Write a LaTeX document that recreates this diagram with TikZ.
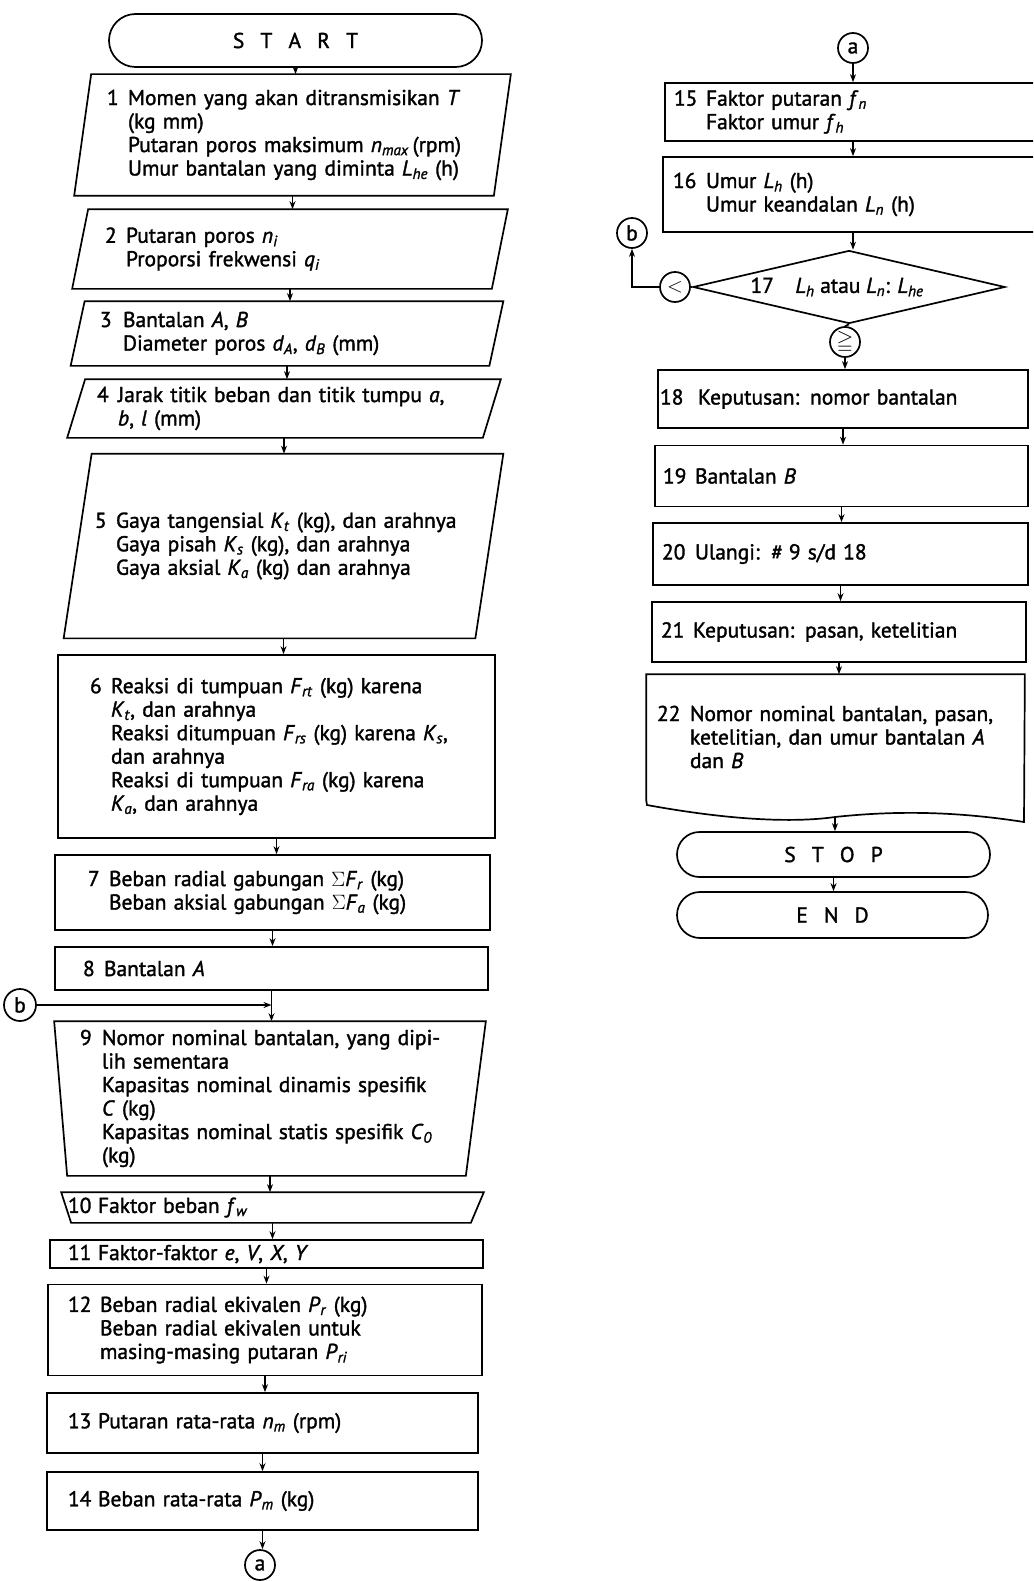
\documentclass[tikz,border=0pt]{standalone}
\usepackage{fontspec}
\usepackage{amssymb}
\setmainfont{PT Sans}[FakeBold=1.5]
\usetikzlibrary{shapes.geometric,shapes.misc,arrows.meta,calc}

\newcommand{\steptext}{\fontsize{21.5}{23.5}\selectfont}
\newcommand{\vsub}[2]{\textit{#1}\textsubscript{\textit{#2}}}
\newcommand{\stepitem}[3][21pt]{\noindent\hangindent=#1\hangafter=1\makebox[#1][l]{#2}#3\par}
\newcommand{\gap}{\hspace{0.75em}}

\begin{document}
\begin{tikzpicture}[x=1pt,y=-1pt,line width=1.7pt,
  box/.style={draw,rectangle,inner sep=0pt,align=left,font=\steptext},
  slanted/.style={box,draw=none},
  term/.style={draw,rounded rectangle,inner sep=0pt,font=\steptext},
  conn/.style={draw,circle,minimum size=30pt,inner sep=0pt,font=\steptext},
  decide/.style={draw,diamond,aspect=4.27,inner sep=0pt,font=\steptext},
  flow/.style={-{Stealth[length=8pt,width=6pt]}}]

\clip (0,0) rectangle (1033,1581);

% left column
\node[term,minimum width=373pt,minimum height=53pt] (start) at (295.5,40.5) {S\gap T\gap A\gap R\gap T};
\node[slanted,minimum width=418pt,minimum height=120pt,text width=371pt] (b1) at (292.5,135)
  {\stepitem{1}{Momen yang akan ditransmisikan \textit{T}\newline(kg mm)\newline Putaran poros maksimum \vsub{n}{max}\,(rpm)\newline Umur bantalan yang diminta \vsub{L}{he} (h)}};
\node[slanted,minimum width=418pt,minimum height=78pt,text width=370pt] (b2) at (290,249)
  {\stepitem{2}{Putaran poros \vsub{n}{i}\newline Proporsi frekwensi \vsub{q}{i}}};
\node[slanted,minimum width=417pt,minimum height=63pt,text width=374pt] (b3) at (287,333.5)
  {\stepitem[23pt]{3}{Bantalan \textit{A}, \textit{B}\newline Diameter poros \vsub{d}{A}, \vsub{d}{B} (mm)}};
\node[slanted,minimum width=414pt,minimum height=57pt,text width=374pt] (b4) at (284,408.5)
  {\stepitem{4}{Jarak titik beban dan titik tumpu \textit{a},\newline\textit{b}, \textit{l} (mm)}};
\node[slanted,minimum width=410pt,minimum height=183pt,text width=377pt] (b5) at (283.5,546)
  {\stepitem{5}{Gaya tangensial \vsub{K}{t} (kg), dan arahnya\newline Gaya pisah \vsub{K}{s} (kg), dan arahnya\newline Gaya aksial \vsub{K}{a} (kg) dan arahnya}};
\node[box,minimum width=437pt,minimum height=183pt,text width=373pt] (b6) at (276.5,746.5)
  {\stepitem{6}{Reaksi di tumpuan \vsub{F}{rt} (kg) karena\newline\vsub{K}{t}, dan arahnya\newline Reaksi ditumpuan \vsub{F}{rs} (kg) karena \vsub{K}{s},\newline dan arahnya\newline Reaksi di tumpuan \vsub{F}{ra} (kg) karena\newline\vsub{K}{a}, dan arahnya}};
\node[box,minimum width=435pt,minimum height=75pt,text width=369pt] (b7) at (272.5,892.5)
  {\stepitem{7}{Beban radial gabungan $\Sigma$\vsub{F}{r} (kg)\newline Beban aksial gabungan $\Sigma$\vsub{F}{a} (kg)}};
\node[box,minimum width=433pt,minimum height=43pt,text width=377pt] (b8) at (271.5,968.5)
  {\stepitem{8}{Bantalan \textit{A}}};
\node[slanted,minimum width=430pt,minimum height=153pt,text width=380pt] (b9) at (270,1098.5)
  {\stepitem[22pt]{9}{Nomor nominal bantalan, yang dipi-\newline lih sementara\newline Kapasitas nominal dinamis spesifik\newline\textit{C} (kg)\newline Kapasitas nominal statis spesifik \vsub{C}{0}\newline(kg)}};
\node[slanted,minimum width=421pt,minimum height=29pt,text width=409pt] (b10) at (272.5,1207.5)
  {\stepitem[30pt]{10}{Faktor beban \vsub{f}{w}}};
\node[box,minimum width=433pt,minimum height=28pt,text width=397pt] (b11) at (266.5,1254)
  {\stepitem[30pt]{11}{Faktor-faktor \textit{e}, \textit{V}, \textit{X}, \textit{Y}}};
\node[box,minimum width=434pt,minimum height=91pt,text width=394pt] (b12) at (265,1330)
  {\parbox{355pt}{\stepitem[32pt]{12}{Beban radial ekivalen \vsub{P}{r} (kg)\\Beban radial ekivalen untuk\linebreak masing-masing putaran \vsub{P}{ri}}}};
\node[box,minimum width=431pt,minimum height=60pt,text width=389pt] (b13) at (262.5,1423)
  {\stepitem[30pt]{13}{Putaran rata-rata \vsub{n}{m} (rpm)}};
\node[box,minimum width=431pt,minimum height=58pt,text width=389pt] (b14) at (262.5,1501)
  {\stepitem[30pt]{14}{Beban rata-rata \vsub{P}{m} (kg)}};
\node[conn] (aL) at (260,1565) {a};
\node[conn,minimum size=32pt] (bL) at (20,1005) {b};

% right column
\node[conn] (aR) at (853,48) {a};
\node[box,minimum width=376pt,minimum height=58pt,text width=358pt] (b15) at (853,112)
  {\stepitem[32pt]{15}{Faktor putaran \vsub{f}{n}\newline Faktor umur \vsub{f}{h}}};
\node[box,minimum width=380pt,minimum height=75pt,text width=360pt] (b16) at (853,194.5)
  {\stepitem[33pt]{16}{Umur \vsub{L}{h} (h)\newline Umur keandalan \vsub{L}{n} (h)}};
\node[decide,minimum width=312pt,minimum height=73pt] (d17) at (849,287)
  {\hspace*{-24pt}17\quad\vsub{L}{h} atau \vsub{L}{n}: \vsub{L}{he}};
\node[conn] (lt) at (675,287) {$<$};
\node[conn] (bR) at (632,233) {b};
\node[conn] (ge) at (845,342) {$\geqq$};
\node[box,minimum width=370pt,minimum height=58pt,text width=366pt] (b18) at (843,399)
  {\stepitem[38pt]{18}{Keputusan: nomor bantalan}};
\node[box,minimum width=373pt,minimum height=61pt,text width=357pt] (b19) at (841.5,476)
  {\stepitem[32pt]{19}{Bantalan \textit{B}}};
\node[box,minimum width=375pt,minimum height=62pt,text width=357pt] (b20) at (840.5,554)
  {\stepitem[33pt]{20}{Ulangi: \textit{\#} 9 s/d 18}};
\node[box,minimum width=374pt,minimum height=60pt,text width=356pt] (b21) at (839,632)
  {\stepitem[32pt]{21}{Keputusan: pasan, ketelitian}};
\node[slanted,minimum width=377pt,minimum height=124pt,text width=357pt] (b22) at (835.5,737)
  {\parbox{355pt}{\stepitem[33pt]{22}{Nomor nominal bantalan, pasan,\linebreak ketelitian, dan umur bantalan \textit{A}\linebreak dan \textit{B}}}};
\node[term,minimum width=313pt,minimum height=45pt] (stop) at (833.5,854.5) {S\gap T\gap O\gap P};
\node[term,minimum width=311pt,minimum height=46pt] (end) at (832.5,915) {E\gap N\gap D};

% outlines of the input boxes
\foreach \n/\s in {b1/17,b2/16,b3/14,b4/18,b5/28}
  \draw ($(\n.north west)+(\s/2,0)$) -- ($(\n.north east)+(\s/2,0)$)
     -- ($(\n.south east)-(\s/2,0)$) -- ($(\n.south west)-(\s/2,0)$) -- cycle;
\draw (b9.north west) -- (b9.north east) -- ($(b9.south east)-(20,0)$) -- ($(b9.south west)+(13,0)$) -- cycle;
\draw (b10.north west) -- (b10.north east) -- ($(b10.south east)-(13,0)$) -- ($(b10.south west)+(10,0)$) -- cycle;
\draw (b22.south west) -- (b22.north west) -- (b22.north east) -- (1024,822)
  .. controls (960,812) and (900,810) .. (835,817) coordinate (w22)
  .. controls (800,822) and (740,822) .. (647,805) -- cycle;

% connectors
\foreach \a/\b in {start/b1,b1/b2,b2/b3,b3/b4,b4/b5,b5/b6,b6/b7,b7/b8,b8/b9,b9/b10,b10/b11,
    b11/b12,b12/b13,b13/b14,b14/aL,aR/b15,b15/b16,b16/d17,ge/b18,b18/b19,b19/b20,b20/b21,b21/b22}
  \draw[flow] (\a.south) -- (\a.south |- \b.north);
\draw[flow] (bL.east) -- (bL.east -| b8.south);
\draw (d17.west) -- (lt.east);
\draw[flow] (lt.west) -| (bR.south);
\draw (d17.south) -- (ge.north);
\draw[flow] (w22) -- (w22 |- stop.north);
\draw[flow] (stop.south) -- (stop.south |- end.north);

\end{tikzpicture}
\end{document}
